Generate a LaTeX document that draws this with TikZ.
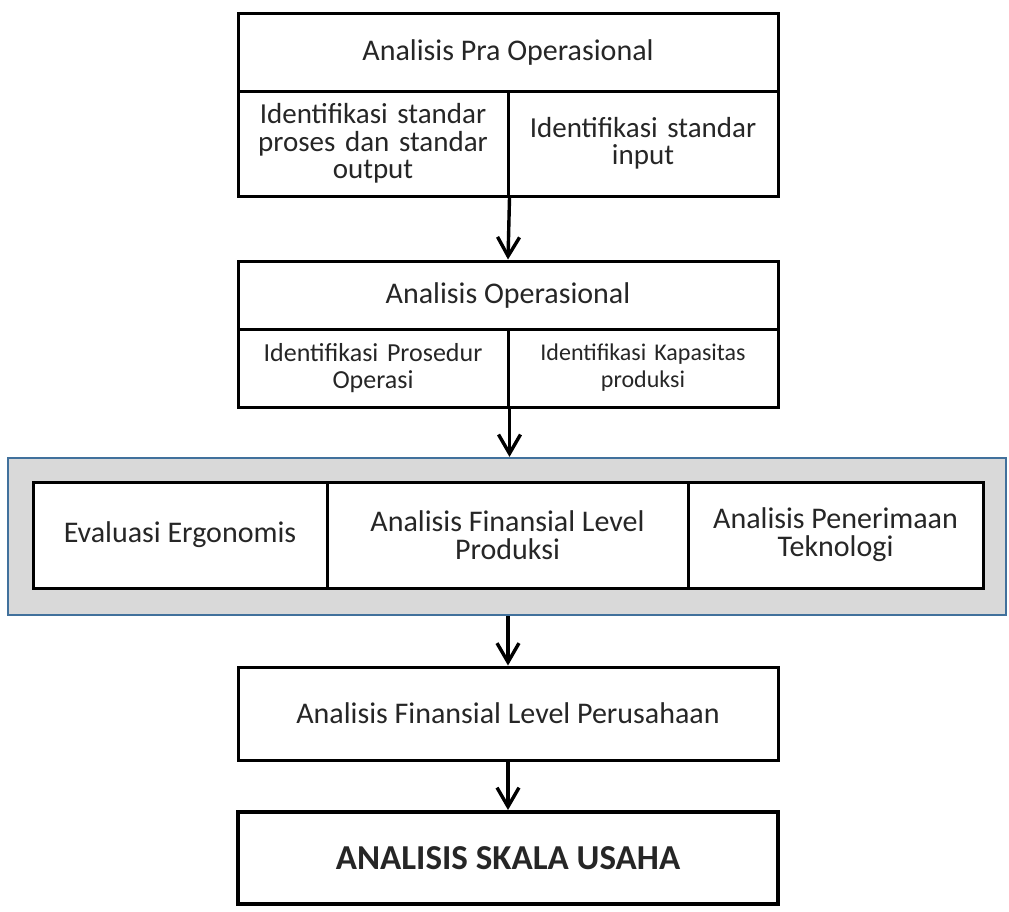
\documentclass[tikz,border=0pt]{standalone}
\usepackage{fontspec}
\setmainfont{Carlito}
\usetikzlibrary{arrows.meta}
\definecolor{garisbiru}{RGB}{65,113,156}
\definecolor{abu}{RGB}{217,217,217}
\definecolor{teks}{RGB}{38,38,38}

\begin{document}
\begin{tikzpicture}[x=1pt,y=-1pt,
        kotak/.style={draw=black, line width=3pt, fill=white, text=teks,
            inner sep=0pt, align=center, font=\fontsize{30}{28}\selectfont},
        kepala/.style={kotak, minimum width=540pt, minimum height=78pt},
        sel/.style={kotak, minimum width=270pt, text width=250pt},
        panah/.style={line width=3.4pt, -{Straight Barb[length=19pt,width=22pt,line width=3.4pt]}}]
    \useasboundingbox (0,0) rectangle (1009,911);

    % analisis pra operasional
    \node[kepala] (pra) at (508,52) {Analisis Pra Operasional};
    \node[sel, minimum height=105pt, font=\fontsize{29}{27.5}\selectfont] (prakiri) at (373,143.5)
        {Identifikasi standar\\proses dan standar\\output};
    \node[sel, minimum height=105pt, font=\fontsize{29}{27.5}\selectfont] (prakanan) at (643,143.5)
        {Identifikasi standar\\input};

    % analisis operasional
    \node[kepala, minimum height=68pt] (op) at (508,295) {Analisis Operasional};
    \node[sel, minimum height=78pt, font=\fontsize{26}{27}\selectfont] (opkiri) at (373,368)
        {Identifikasi Prosedur\\Operasi};
    \node[sel, minimum height=78pt, font=\fontsize{24}{27}\selectfont] (opkanan) at (643,368)
        {Identifikasi Kapasitas\\produksi};

    % blok evaluasi
    \node[draw=garisbiru, line width=2.2pt, fill=abu, minimum width=998pt,
        minimum height=157pt] (blok) at (507,536.5) {};
    \node[kotak, minimum width=294pt, minimum height=106pt] (ergo) at (180,535)
        {Evaluasi Ergonomis};
    \node[kotak, minimum width=361pt, minimum height=106pt] (finprod) at (507.5,535)
        {Analisis Finansial Level\\Produksi};
    \node[kotak, minimum width=295pt, minimum height=106pt] (teknologi) at (835.5,535)
        {Analisis Penerimaan\\Teknologi};

    % level perusahaan dan skala usaha
    \node[kepala, minimum height=93pt] (finper) at (508,713.5)
        {Analisis Finansial Level Perusahaan};
    \node[kepala, minimum height=92pt, line width=4pt,
        font=\fontsize{35}{35}\bfseries] (skala) at (508,858) {ANALISIS SKALA USAHA};

    \draw[panah] (prakiri.south east) -- (op.north);
    \draw[panah] (opkiri.south east) -- (opkiri.south east |- blok.north);
    \draw[panah] (finper.north |- blok.south) -- (finper.north);
    \draw[panah] (finper) -- (skala);
\end{tikzpicture}
\end{document}
